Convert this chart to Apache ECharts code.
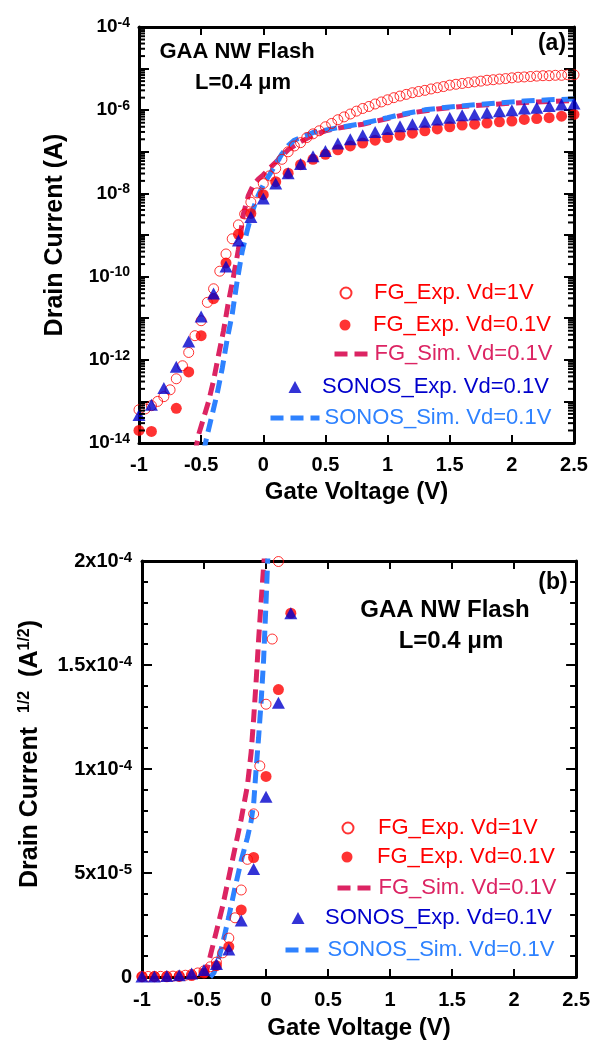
<!DOCTYPE html>
<html>
<head>
<meta charset="utf-8">
<script src="https://cdn.jsdelivr.net/npm/echarts@6/dist/echarts.min.js"></script>
<style>
  html, body { margin: 0; padding: 0; background: #fff; }
  #chart { width: 593px; height: 1043px; }
</style>
</head>
<body>
<div id="chart"></div>
<script>
// Gate voltage sweeps (V)
const vgFine = [-1, -0.95, -0.9, -0.85, -0.8, -0.75, -0.7, -0.65, -0.6, -0.55, -0.5, -0.45, -0.4, -0.35, -0.3, -0.25,
  -0.2, -0.15, -0.1, -0.05, 0, 0.05, 0.1, 0.15, 0.2, 0.25, 0.3, 0.35, 0.4, 0.45, 0.5, 0.55, 0.6, 0.65, 0.7, 0.75,
  0.8, 0.85, 0.9, 0.95, 1, 1.05, 1.1, 1.15, 1.2, 1.25, 1.3, 1.35, 1.4, 1.45, 1.5, 1.55, 1.6, 1.65, 1.7, 1.75,
  1.8, 1.85, 1.9, 1.95, 2, 2.05, 2.1, 2.15, 2.2, 2.25, 2.3, 2.35, 2.4, 2.45, 2.5];
const vgCoarse = [-1, -0.9, -0.8, -0.7, -0.6, -0.5, -0.4, -0.3, -0.2, -0.1, 0, 0.1, 0.2, 0.3, 0.4, 0.5, 0.6, 0.7,
  0.8, 0.9, 1, 1.1, 1.2, 1.3, 1.4, 1.5, 1.6, 1.7, 1.8, 1.9, 2, 2.1, 2.2, 2.3, 2.4, 2.5];

// Measured drain current (A)
const idFgVd1 = [6.3e-14, 6.6e-14, 7.9e-14, 1.0e-13, 1.3e-13, 1.9e-13, 3.5e-13, 7.2e-13, 1.5e-12, 3.8e-12, 8.7e-12,
  2.4e-11, 5.1e-11, 1.35e-10, 3.5e-10, 8.1e-10, 1.75e-9, 3.2e-9, 6.15e-9, 1.03e-8, 1.72e-8, 2.64e-8, 3.99e-8,
  6.6e-8, 1.0e-7, 1.38e-7, 1.66e-7, 2.2e-7, 2.7e-7, 3.2e-7, 4.0e-7, 4.8e-7, 5.9e-7, 6.9e-7, 8.1e-7, 9.5e-7,
  1.10e-6, 1.23e-6, 1.41e-6, 1.58e-6, 1.78e-6, 2.0e-6, 2.19e-6, 2.4e-6, 2.63e-6, 2.82e-6, 3.0e-6, 3.24e-6,
  3.47e-6, 3.7e-6, 4.0e-6, 4.2e-6, 4.4e-6, 4.6e-6, 4.8e-6, 5.0e-6, 5.25e-6, 5.4e-6, 5.6e-6, 5.75e-6, 6.0e-6,
  6.2e-6, 6.3e-6, 6.45e-6, 6.6e-6, 6.75e-6, 6.75e-6, 6.9e-6, 6.9e-6, 7.1e-6, 7.1e-6];
const idFgVd01 = [2.0e-14, 1.9e-14, 6.0e-15, 6.8e-14, 5.1e-13, 3.8e-12, 2.95e-11, 2.13e-10, 1.04e-9, 3.3e-9, 9.3e-9,
  1.91e-8, 3.06e-8, 4.9e-8, 6.6e-8, 8.7e-8, 1.12e-7, 1.38e-7, 1.62e-7, 1.9e-7, 2.2e-7, 2.5e-7, 2.8e-7, 3.2e-7,
  3.55e-7, 4.0e-7, 4.4e-7, 4.6e-7, 4.9e-7, 5.25e-7, 5.5e-7, 6.0e-7, 6.3e-7, 6.6e-7, 7.2e-7, 7.9e-7];
const idSonosVd01 = [4.7e-14, 8.3e-14, 2.1e-13, 6.8e-13, 2.75e-12, 1.1e-11, 3.9e-11, 1.75e-10, 7.4e-10, 2.7e-9, 7.5e-9,
  1.74e-8, 3.06e-8, 5.1e-8, 7.8e-8, 1.05e-7, 1.58e-7, 2.0e-7, 2.5e-7, 3.0e-7, 3.55e-7, 4.1e-7, 4.6e-7, 5.25e-7,
  6.0e-7, 6.6e-7, 7.6e-7, 7.9e-7, 8.7e-7, 9.5e-7, 1.0e-6, 1.1e-6, 1.15e-6, 1.26e-6, 1.38e-6, 1.45e-6];

// Simulated transfer curves, log panel: [Vg (V), Id (A)]
const simFgId = [[-0.55, 5.6e-15], [-0.52, 1.6e-14], [-0.48, 4.0e-14], [-0.44, 1.0e-13], [-0.40, 3.2e-13],
  [-0.36, 1.3e-12], [-0.32, 5.0e-12], [-0.28, 2.5e-11], [-0.24, 1.0e-10], [-0.20, 4.5e-10], [-0.16, 3.2e-9],
  [-0.12, 8.9e-9], [-0.08, 1.6e-8], [-0.04, 2.2e-8], [0, 2.8e-8], [0.05, 4.0e-8], [0.10, 5.6e-8], [0.15, 7.9e-8],
  [0.20, 1.12e-7], [0.25, 1.4e-7], [0.30, 1.74e-7], [0.40, 2.5e-7], [0.50, 3.2e-7], [0.60, 3.7e-7],
  [0.80, 4.6e-7], [1.00, 6.3e-7], [1.20, 8.7e-7], [1.40, 1.07e-6], [1.60, 1.23e-6], [1.80, 1.35e-6],
  [2.00, 1.48e-6], [2.20, 1.58e-6], [2.50, 1.7e-6]];
const simSonosId = [[-0.48, 6.3e-15], [-0.45, 1.6e-14], [-0.41, 5.0e-14], [-0.37, 1.6e-13], [-0.33, 6.3e-13],
  [-0.29, 3.2e-12], [-0.25, 1.26e-11], [-0.21, 7.9e-11], [-0.17, 4.0e-10], [-0.13, 1.26e-9], [-0.09, 3.5e-9],
  [-0.05, 7.9e-9], [0, 1.6e-8], [0.05, 2.8e-8], [0.10, 5.0e-8], [0.15, 8.9e-8], [0.20, 1.4e-7], [0.25, 1.9e-7],
  [0.30, 2.2e-7], [0.40, 2.9e-7], [0.60, 3.8e-7], [0.80, 4.8e-7], [1.00, 6.6e-7], [1.10, 7.8e-7],
  [1.30, 1.02e-6], [1.50, 1.2e-6], [1.70, 1.35e-6], [1.90, 1.5e-6], [2.10, 1.66e-6], [2.30, 1.78e-6],
  [2.50, 1.86e-6]];

// Simulated transfer curves, square-root panel: [Vg (V), Id^1/2 (A^1/2)]
const simFgSqrt = [[-0.5, 0], [-0.47, 5e-6], [-0.45, 1.0e-5], [-0.4, 2.2e-5], [-0.35, 3.4e-5], [-0.3, 4.8e-5],
  [-0.25, 6.2e-5], [-0.2, 7.6e-5], [-0.15, 9.2e-5], [-0.12, 1.08e-4], [-0.1, 1.24e-4], [-0.08, 1.42e-4],
  [-0.06, 1.62e-4], [-0.04, 1.8e-4], [-0.02, 1.97e-4], [0, 2.12e-4]];
const simSonosSqrt = [[-0.45, 0], [-0.42, 2e-6], [-0.4, 5e-6], [-0.35, 1.6e-5], [-0.3, 2.9e-5], [-0.25, 4.3e-5],
  [-0.2, 5.6e-5], [-0.15, 6.7e-5], [-0.12, 7.5e-5], [-0.1, 8.3e-5], [-0.08, 1.0e-4], [-0.06, 1.15e-4],
  [-0.04, 1.32e-4], [-0.02, 1.52e-4], [0, 1.8e-4], [0.02, 2.1e-4]];

// Tick labels
const logLabelExponents = [-14, -12, -10, -8, -6, -4];
const sqrtTickValues = [0, 5e-5, 1e-4, 1.5e-4, 2e-4];
const sqrtTickMantissa = ['0', '5', '1', '1.5', '2'];
const sqrtTickExponent = ['', '-5', '-4', '-4', '-4'];

const FONT = "'Liberation Sans', Arial, Helvetica, sans-serif";
const C_FG_EXP = '#FF0000';
const C_FG_SIM = '#DC2463';
const C_SONOS_EXP = '#0000CC';
const C_SONOS_SIM = '#2E82FF';

const N_FG1 = 'FG_Exp. Vd=1V';
const N_FG01 = 'FG_Exp. Vd=0.1V';
const N_FGSIM = 'FG_Sim. Vd=0.1V';
const N_SO = 'SONOS_Exp. Vd=0.1V';
const N_SOSIM = 'SONOS_Sim. Vd=0.1V';

const TRIANGLE_ICON = 'path://M6.5,0L13,12L0,12Z';

const X_MIN = -1;
const X_MAX = 2.5;

// 2..9 subdivisions of each decade (log10 units) for the log panel's minor ticks
const logMinorTicks = [];
for (let n = -14; n < -4; n++) {
  for (let k = 2; k <= 9; k++) logMinorTicks.push(n + Math.log10(k));
}

const zipLog = (xs, ys) => xs.map((x, i) => [x, Math.log10(ys[i])]);
const zipSqrt = (xs, ys) => xs.map((x, i) => [x, Math.sqrt(ys[i])]);

const axisLine = { show: true, onZero: false, lineStyle: { color: '#000', width: 3 } };
const tickStyle = { color: '#000', width: 2 };

const MAJOR_LEN = 10;
const MINOR_LEN = 6;

function xAxes(gridIndex, nameGap, margin) {
  return [
    {
      type: 'value', gridIndex, position: 'bottom', min: X_MIN, max: X_MAX, interval: 0.5,
      axisLine, axisTick: { inside: true, length: 8, lineStyle: tickStyle },
      axisLabel: { margin, color: '#000', fontSize: 20, fontWeight: 'bold', fontFamily: FONT },
      splitLine: { show: false },
      name: 'Gate Voltage (V)', nameLocation: 'middle', nameGap,
      nameTextStyle: { color: '#000', fontSize: 24, fontWeight: 'bold', fontFamily: FONT }
    },
    {
      type: 'value', gridIndex, position: 'top', min: X_MIN, max: X_MAX, interval: 0.5,
      axisLine, axisTick: { inside: true, length: 8, lineStyle: tickStyle },
      axisLabel: { show: false }, splitLine: { show: false }
    }
  ];
}

const supRich = {
  b: { fontSize: 19, fontWeight: 'bold', fontFamily: FONT, color: '#000', lineHeight: 22 },
  s: { fontSize: 14, fontWeight: 'bold', fontFamily: FONT, color: '#000', verticalAlign: 'top', lineHeight: 14 }
};

const yAxes = [
  // log panel (log10 of current), left
  {
    type: 'value', gridIndex: 0, position: 'left', min: -14, max: -4, interval: 1,
    axisLine, axisTick: { inside: true, length: MAJOR_LEN, lineStyle: tickStyle },
    axisLabel: {
      margin: 9,
      formatter: v => logLabelExponents.indexOf(v) >= 0 ? '{b|10}{s|' + v + '}' : '',
      rich: supRich
    },
    splitLine: { show: false },
    name: 'Drain Current (A)', nameLocation: 'middle', nameGap: 71,
    nameTextStyle: { color: '#000', fontSize: 25, fontWeight: 'bold', fontFamily: FONT }
  },
  // log panel, right mirror
  {
    type: 'value', gridIndex: 0, position: 'right', min: -14, max: -4, interval: 1,
    axisLine, axisTick: { inside: true, length: MAJOR_LEN, lineStyle: tickStyle },
    axisLabel: { show: false }, splitLine: { show: false }
  },
  // square-root panel, left
  {
    type: 'value', gridIndex: 1, position: 'left', min: 0, max: 2e-4, interval: 5e-5,
    axisLine, axisTick: { inside: true, length: MAJOR_LEN, lineStyle: tickStyle },
    minorTick: { show: true, splitNumber: 5, length: MINOR_LEN, lineStyle: tickStyle },
    axisLabel: {
      margin: 10,
      formatter: v => {
        let idx = 0;
        sqrtTickValues.forEach((t, i) => { if (Math.abs(t - v) < 1e-9) idx = i; });
        if (!sqrtTickExponent[idx]) return '{b|' + sqrtTickMantissa[idx] + '}';
        return '{b|' + sqrtTickMantissa[idx] + 'x10}{s|' + sqrtTickExponent[idx] + '}';
      },
      rich: {
        b: { fontSize: 20, fontWeight: 'bold', fontFamily: FONT, color: '#000', lineHeight: 22 },
        s: { fontSize: 15, fontWeight: 'bold', fontFamily: FONT, color: '#000', verticalAlign: 'top', lineHeight: 15 }
      }
    },
    splitLine: { show: false },
    name: '{g|}{t|Drain Current  }{s|1/2}{t|  (A}{s|1/2}{t|)}', nameLocation: 'middle', nameGap: 98,
    nameTextStyle: {
      rich: {
        g: { width: 30 },
        t: { fontSize: 25, fontWeight: 'bold', fontFamily: FONT, color: '#000', lineHeight: 27 },
        s: { fontSize: 16, fontWeight: 'bold', fontFamily: FONT, color: '#000', verticalAlign: 'top', lineHeight: 16 }
      }
    }
  },
  // square-root panel, right mirror
  {
    type: 'value', gridIndex: 1, position: 'right', min: 0, max: 2e-4, interval: 5e-5,
    axisLine, axisTick: { inside: true, length: MAJOR_LEN, lineStyle: tickStyle },
    minorTick: { show: true, splitNumber: 5, length: MINOR_LEN, lineStyle: tickStyle },
    axisLabel: { show: false }, splitLine: { show: false }
  }
];

function panelSeries(xi, yi, fg1, fg01, so, simFg, simSo) {
  return [
    {
      name: N_FGSIM, type: 'line', xAxisIndex: xi, yAxisIndex: yi, data: simFg,
      symbol: 'none', lineStyle: { color: C_FG_SIM, width: 5, type: [13, 7] }, itemStyle: { color: C_FG_SIM }, z: 2
    },
    {
      name: N_SOSIM, type: 'line', xAxisIndex: xi, yAxisIndex: yi, data: simSo,
      symbol: 'none', lineStyle: { color: C_SONOS_SIM, width: 5, type: [13, 7] }, itemStyle: { color: C_SONOS_SIM }, z: 2
    },
    {
      name: N_FG1, type: 'scatter', xAxisIndex: xi, yAxisIndex: yi, data: fg1,
      symbol: 'circle', symbolSize: 10,
      itemStyle: { color: 'rgba(255,255,255,0)', borderColor: C_FG_EXP, borderWidth: 1 }, z: 3
    },
    {
      name: N_FG01, type: 'scatter', xAxisIndex: xi, yAxisIndex: yi, data: fg01,
      symbol: 'circle', symbolSize: 11, itemStyle: { color: C_FG_EXP }, z: 4
    },
    {
      name: N_SO, type: 'scatter', xAxisIndex: xi, yAxisIndex: yi, data: so,
      symbol: 'triangle', symbolSize: [13, 12], itemStyle: { color: C_SONOS_EXP }, z: 5
    }
  ];
}

// minor log ticks on both vertical frame edges, placed through the panel's own scales
const logMinorTickSeries = {
  type: 'custom', xAxisIndex: 0, yAxisIndex: 0, silent: true, clip: false, z: 6,
  data: logMinorTicks.map(v => [X_MIN, v]),
  encode: { x: 0, y: 1 },
  renderItem: (params, api) => {
    const v = api.value(1);
    const left = api.coord([X_MIN, v]);
    const right = api.coord([X_MAX, v]);
    const st = { stroke: '#000', lineWidth: 2 };
    return {
      type: 'group',
      children: [
        { type: 'line', shape: { x1: left[0], y1: left[1], x2: left[0] + MINOR_LEN, y2: left[1] }, style: st },
        { type: 'line', shape: { x1: right[0] - MINOR_LEN, y1: right[1], x2: right[0], y2: right[1] }, style: st }
      ]
    };
  }
};

const series = [].concat(
  panelSeries(0, 0,
    zipLog(vgFine, idFgVd1), zipLog(vgCoarse, idFgVd01), zipLog(vgCoarse, idSonosVd01),
    simFgId.map(([v, i]) => [v, Math.log10(i)]), simSonosId.map(([v, i]) => [v, Math.log10(i)])),
  panelSeries(2, 2,
    zipSqrt(vgFine, idFgVd1), zipSqrt(vgCoarse, idFgVd01), zipSqrt(vgCoarse, idSonosVd01),
    simFgSqrt, simSonosSqrt),
  [logMinorTickSeries]
);

// one legend block per entry; left/top locate the visible icon's corner
function legendItem(name, color, left, top, itemWidth, itemHeight, kind) {
  const lg = {
    data: [name], left, top, orient: 'horizontal', padding: 0,
    itemWidth, itemHeight, selectedMode: false,
    textStyle: { color, fontSize: 22, fontFamily: FONT }
  };
  if (kind === 'line') {
    lg.lineStyle = { width: 5 };
    lg.itemStyle = { opacity: 0 };
  } else if (kind === 'triangle') {
    lg.data = [{ name, icon: TRIANGLE_ICON }];
  }
  return lg;
}

const legends = [
  legendItem(N_FG1, C_FG_EXP, 339.5, 282, 46, 11),
  legendItem(N_FG01, C_FG_EXP, 339.5, 314, 46, 11),
  legendItem(N_FGSIM, C_FG_SIM, 332, 343, 35, 10, 'line'),
  legendItem(N_SO, C_SONOS_EXP, 288.5, 376, 44, 12, 'triangle'),
  legendItem(N_SOSIM, C_SONOS_SIM, 268, 407, 49, 10, 'line'),
  legendItem(N_FG1, C_FG_EXP, 341.5, 817, 50, 11),
  legendItem(N_FG01, C_FG_EXP, 341.5, 846, 50, 11),
  legendItem(N_FGSIM, C_FG_SIM, 335, 877, 36, 10, 'line'),
  legendItem(N_SO, C_SONOS_EXP, 291.5, 907, 44, 12, 'triangle'),
  legendItem(N_SOSIM, C_SONOS_SIM, 283, 939, 37, 10, 'line')
];

function note(text, x, y, size) {
  return {
    type: 'text', z: 10,
    style: { text, x, y, align: 'center', verticalAlign: 'middle', fill: '#000',
      font: 'bold ' + size + 'px ' + FONT }
  };
}

const chart = echarts.init(document.getElementById('chart'), null, { renderer: 'canvas' });
chart.setOption({
  animation: false,
  backgroundColor: '#fff',
  grid: [
    { left: 139, top: 27, width: 435, height: 416 },
    { left: 142, top: 561, width: 436, height: 416 }
  ],
  xAxis: [].concat(xAxes(0, 37, 12), xAxes(1, 39, 13)),
  yAxis: yAxes,
  legend: legends,
  series,
  graphic: [
    note('GAA NW Flash', 237, 52, 22),
    note('L=0.4 \u03bcm', 243, 83, 22),
    note('(a)', 552, 44, 23),
    note('GAA NW Flash', 445, 610, 24),
    note('L=0.4 \u03bcm', 451, 641, 24),
    note('(b)', 553, 583, 23)
  ]
});
</script>
</body>
</html>
